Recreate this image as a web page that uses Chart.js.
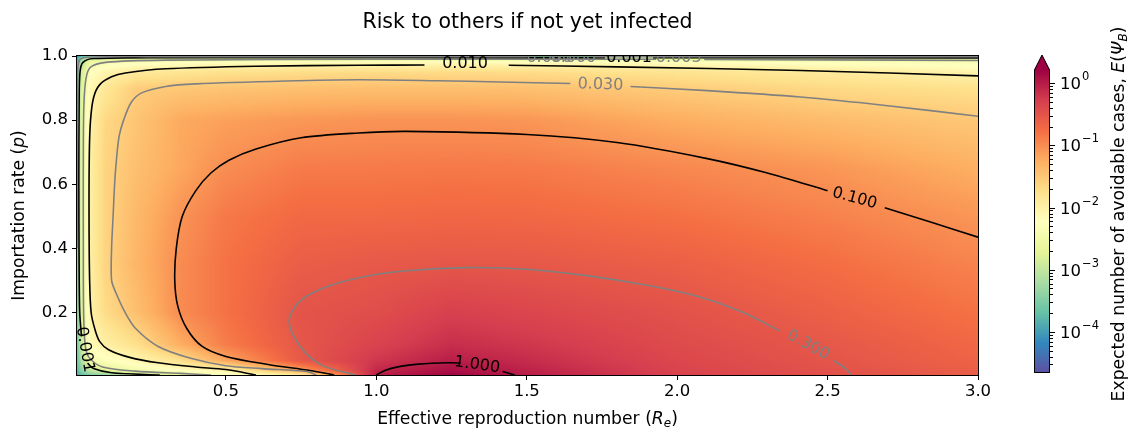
<!DOCTYPE html>
<html>
<head>
<meta charset="utf-8">
<title>Risk to others if not yet infected</title>
<script src="https://cdn.jsdelivr.net/npm/chart.js@4.4.0/dist/chart.umd.min.js"></script>
<style>
  html, body { margin: 0; padding: 0; background: #fff; }
  #wrap { position: relative; width: 1132px; height: 435px; }
  #main { position: absolute; left: 0; top: 0; }
  #cbar { position: absolute; left: 1000px; top: 0; }
</style>
</head>
<body>
<div id="wrap">
  <canvas id="main" width="1132" height="435"></canvas>
  <canvas id="cbar" width="132" height="435"></canvas>
</div>
<script>
// axis ticks
const xTicks = [0.5, 1.0, 1.5, 2.0, 2.5, 3.0];
const yTicks = [0.2, 0.4, 0.6, 0.8, 1.0];
const cbMajor = [-4, -3, -2, -1, 0];          // colorbar exponents (10^n)

// grid of log10 E(Psi_B)
const rNodes = [0, 0.02, 0.05, 0.1, 0.2, 0.35, 0.5, 0.75, 1.0, 1.25, 1.5, 2.0, 2.5, 3.0];
const pNodes = [0.005, 0.02, 0.05, 0.1, 0.2, 0.35, 0.5, 0.65, 0.8, 0.9, 0.95, 0.98, 0.995, 1.0];
const logE = [
  [-4.0, -3.7, -3.5, -3.35, -3.1, -2.75, -2.35, -1.9, -0.03, 0.18, -0.02, -0.33, -0.46, -0.6],   // p=0.005
  [-3.9, -3.4, -3.0, -2.7, -2.45, -2.2, -2.0, -1.1, -0.1, 0.1, -0.06, -0.34, -0.48, -0.62],      // p=0.02
  [-3.85, -3.15, -2.45, -2.3, -2.1, -1.75, -1.2, -0.55, -0.22, -0.02, -0.13, -0.37, -0.51, -0.66], // p=0.05
  [-3.8, -2.95, -2.15, -1.98, -1.75, -1.25, -0.88, -0.53, -0.33, -0.15, -0.22, -0.41, -0.54, -0.7], // p=0.1
  [-3.8, -2.75, -2.0, -1.7, -1.42, -0.99, -0.8, -0.5, -0.44, -0.3, -0.36, -0.48, -0.63, -0.8],     // p=0.2
  [-3.8, -2.65, -1.96, -1.62, -1.33, -0.99, -0.8, -0.6, -0.55, -0.53, -0.54, -0.62, -0.76, -0.93], // p=0.35
  [-3.8, -2.65, -1.96, -1.62, -1.36, -1.05, -0.85, -0.72, -0.72, -0.7, -0.71, -0.79, -0.91, -1.07], // p=0.5
  [-3.8, -2.68, -1.96, -1.62, -1.42, -1.2, -1.0, -0.87, -0.86, -0.85, -0.86, -0.96, -1.07, -1.27],  // p=0.65
  [-3.8, -2.72, -1.99, -1.66, -1.48, -1.22, -1.15, -1.08, -1.05, -1.05, -1.07, -1.25, -1.38, -1.5], // p=0.8
  [-3.8, -2.8, -2.1, -1.85, -1.55, -1.5, -1.47, -1.43, -1.42, -1.42, -1.43, -1.55, -1.68, -1.76],   // p=0.9
  [-3.9, -2.9, -2.25, -2.05, -1.9, -1.82, -1.76, -1.72, -1.7, -1.7, -1.71, -1.8, -1.9, -2.06],      // p=0.95
  [-4.0, -3.1, -2.55, -2.4, -2.3, -2.25, -2.2, -2.17, -2.15, -2.15, -2.16, -2.2, -2.28, -2.35],     // p=0.98
  [-4.1, -3.5, -3.1, -3.0, -3.0, -2.98, -2.97, -2.96, -2.95, -2.95, -2.95, -2.96, -2.98, -3.0],     // p=0.995
  [-4.3, -3.9, -3.8, -3.8, -3.8, -3.8, -3.8, -3.8, -3.8, -3.8, -3.8, -3.8, -3.8, -3.8]              // p=1.0
];

// contour lines as [R_e, p] points, split where the inline label sits
const cont1000 = [
  [[1.0, 0.005], [1.03, 0.02], [1.08, 0.032], [1.14, 0.039], [1.24, 0.043], [1.28, 0.042]],
  [[1.42, 0.016], [1.46, 0.005]]
];
const cont0300 = [
  [[0.93, 0.005], [0.82, 0.035], [0.75, 0.09], [0.71, 0.17], [0.74, 0.23], [0.82, 0.275], [0.95, 0.31],
   [1.1, 0.33], [1.3, 0.34], [1.5, 0.335], [1.7, 0.315], [1.9, 0.285], [2.07, 0.25], [2.22, 0.2], [2.34, 0.143]],
  [[2.52, 0.05], [2.56, 0.025], [2.58, 0.005]]
];
const cont0100 = [
  [[0.86, 0.005], [0.78, 0.019], [0.64, 0.038], [0.5, 0.063], [0.42, 0.095], [0.37, 0.15], [0.34, 0.22],
   [0.33, 0.3], [0.335, 0.4], [0.355, 0.5], [0.4, 0.58], [0.45, 0.635], [0.51, 0.675], [0.6, 0.71],
   [0.75, 0.745], [0.94, 0.76], [1.1, 0.765], [1.5, 0.755], [1.8, 0.73], [2.1, 0.68], [2.3, 0.635], [2.5, 0.58]],
  [[2.69, 0.527], [2.85, 0.48], [3.0, 0.435]]
];
const cont0030 = [
  [[0.8, 0.005], [0.77, 0.016], [0.62, 0.025], [0.5, 0.034], [0.38, 0.058], [0.275, 0.094], [0.2, 0.15],
   [0.165, 0.2], [0.135, 0.26], [0.12, 0.3], [0.12, 0.4], [0.125, 0.5], [0.13, 0.6], [0.136, 0.675],
   [0.145, 0.75], [0.16, 0.8], [0.185, 0.855], [0.22, 0.885], [0.3, 0.905], [0.4, 0.913], [0.7, 0.922],
   [0.94, 0.926], [1.2, 0.923], [1.41, 0.919], [1.645, 0.914]],
  [[1.845, 0.905], [2.1, 0.892], [2.41, 0.872], [2.7, 0.845], [3.0, 0.812]]
];
const cont0010 = [
  [[0.6, 0.005], [0.5, 0.022], [0.4, 0.03], [0.275, 0.043], [0.18, 0.06], [0.11, 0.084], [0.08, 0.11],
   [0.065, 0.146], [0.052, 0.2], [0.047, 0.3], [0.045, 0.5], [0.046, 0.7], [0.05, 0.8], [0.06, 0.87],
   [0.08, 0.91], [0.12, 0.935], [0.166, 0.947], [0.3, 0.96], [0.6, 0.968], [0.94, 0.971], [1.16, 0.972]],
  [[1.44, 0.971], [1.8, 0.966], [2.41, 0.955], [3.0, 0.938]]
];
const cont0003 = [
  [[0.45, 0.005], [0.35, 0.01], [0.2, 0.017], [0.09, 0.03], [0.045, 0.06], [0.032, 0.1], [0.027, 0.2],
   [0.026, 0.4], [0.026, 0.7], [0.028, 0.85], [0.035, 0.93], [0.05, 0.965], [0.1, 0.98], [0.3, 0.987],
   [1.0, 0.99], [1.93, 0.99]],
  [[2.09, 0.989], [2.5, 0.988], [3.0, 0.986]]
];
const cont0001 = [
  [[0.28, 0.005], [0.12, 0.012], [0.06, 0.025], [0.04, 0.042]],
  [[0.02, 0.125], [0.014, 0.2], [0.012, 0.35], [0.011, 0.6], [0.012, 0.85], [0.015, 0.95], [0.025, 0.98],
   [0.06, 0.992], [0.3, 0.995], [1.76, 0.995]],
  [[1.92, 0.995], [3.0, 0.994]]
];
const cont0000 = [
  [[0.006, 0.4], [0.007, 0.9], [0.012, 0.985], [0.04, 0.996], [0.3, 0.998], [1.5, 0.998]],
  [[1.72, 0.998], [3.0, 0.998]]
];

// inline contour labels: text, R_e, p
const labelText = ['1.000', '0.300', '0.100', '0.030', '0.010', '0.003', '0.001', '0.000', '0.000', '0.001'];
const labelR    = [1.335, 2.435, 2.59, 1.745, 1.295, 2.005, 1.84, 1.575, 1.655, 0.031];
const labelP    = [0.036, 0.098, 0.556, 0.91, 0.974, 0.9935, 0.9945, 0.9955, 0.9955, 0.084];
const labelAngle = [8, 29, 15, 2, 0, 0, 0, 0, 0, 80];
const labelDark  = [true, false, true, false, true, false, true, false, false, true];

// colour scale (log10 limits of the colorbar)
const LMIN = -4.66, LMAX = 0.21;
const spectralR = ['#5e4fa2', '#3288bd', '#66c2a5', '#abdda4', '#e6f598', '#ffffbf',
                   '#fee08b', '#fdae61', '#f46d43', '#d53e4f', '#9e0142']
  .map(h => [parseInt(h.slice(1, 3), 16), parseInt(h.slice(3, 5), 16), parseInt(h.slice(5, 7), 16)]);

const FAMILY = 'DejaVu Sans';
const BLACK = '#000000';
const GRAY = '#808080';
const LABEL_SIZE = 17.2;
const SUB_SIZE = 12;

function cmap(t) {
  t = Math.max(0, Math.min(1, t));
  const s = t * 10;
  const k = Math.min(9, Math.floor(s));
  const f = s - k;
  return [0, 1, 2].map(m => Math.round(spectralR[k][m] * (1 - f) + spectralR[k + 1][m] * f));
}

function locate(nodes, v) {
  const n = nodes.length;
  if (v <= nodes[0]) return [0, 0];
  if (v >= nodes[n - 1]) return [n - 2, 1];
  let i = 0;
  while (v > nodes[i + 1]) i++;
  return [i, (v - nodes[i]) / (nodes[i + 1] - nodes[i])];
}

function logAt(r, p) {
  const [i, fx] = locate(rNodes, r);
  const [j, fy] = locate(pNodes, p);
  const a = logE[j][i], b = logE[j][i + 1], c = logE[j + 1][i], d = logE[j + 1][i + 1];
  return (a * (1 - fx) + b * fx) * (1 - fy) + (c * (1 - fx) + d * fx) * fy;
}

// draw a line of text made of runs (italic / subscript pieces), centred on (x, y)
function drawRuns(ctx, runs, x, y) {
  let total = 0;
  runs.forEach(r => {
    ctx.font = (r.it ? 'italic ' : '') + r.size + 'px "' + FAMILY + '"';
    r.w = ctx.measureText(r.t).width;
    total += r.w;
  });
  let cx = x - total / 2;
  ctx.textAlign = 'left';
  ctx.textBaseline = 'middle';
  runs.forEach(r => {
    ctx.font = (r.it ? 'italic ' : '') + r.size + 'px "' + FAMILY + '"';
    ctx.fillText(r.t, cx, y + (r.dy || 0));
    cx += r.w;
  });
}

const heatPlugin = {
  id: 'heat',
  beforeDatasetsDraw(chart) {
    const {ctx, chartArea: a, scales: {x, y}} = chart;
    const L = Math.round(a.left), T = Math.round(a.top);
    const W = Math.round(a.right) - L, H = Math.round(a.bottom) - T;
    const off = document.createElement('canvas');
    off.width = W; off.height = H;
    const octx = off.getContext('2d');
    const img = octx.createImageData(W, H);
    const rs = [];
    for (let i = 0; i < W; i++) rs.push(x.getValueForPixel(L + i + 0.5));
    for (let j = 0; j < H; j++) {
      const p = y.getValueForPixel(T + j + 0.5);
      for (let i = 0; i < W; i++) {
        const c = cmap((logAt(rs[i], p) - LMIN) / (LMAX - LMIN));
        const k = (j * W + i) * 4;
        img.data[k] = c[0]; img.data[k + 1] = c[1]; img.data[k + 2] = c[2]; img.data[k + 3] = 255;
      }
    }
    octx.putImageData(img, 0, 0);
    ctx.drawImage(off, L, T);
  }
};

const labelPlugin = {
  id: 'clabels',
  afterDatasetsDraw(chart) {
    const {ctx, chartArea: a, scales: {x, y}} = chart;
    ctx.save();
    ctx.beginPath();
    ctx.rect(a.left, a.top, a.right - a.left, a.bottom - a.top);
    ctx.clip();
    ctx.font = '16px "' + FAMILY + '"';
    ctx.textAlign = 'center';
    ctx.textBaseline = 'middle';
    labelText.forEach((t, k) => {
      ctx.save();
      ctx.translate(x.getPixelForValue(labelR[k]), y.getPixelForValue(labelP[k]));
      ctx.rotate(labelAngle[k] * Math.PI / 180);
      ctx.fillStyle = labelDark[k] ? BLACK : GRAY;
      ctx.fillText(t, 0, 0);
      ctx.restore();
    });
    ctx.restore();
  }
};

const framePlugin = {
  id: 'frame',
  afterDraw(chart) {
    const {ctx, chartArea: a} = chart;
    ctx.save();
    ctx.strokeStyle = BLACK;
    ctx.lineWidth = 1;
    ctx.strokeRect(Math.round(a.left) - 0.5, Math.round(a.top) - 0.5,
                   Math.round(a.right) - Math.round(a.left) + 1, Math.round(a.bottom) - Math.round(a.top) + 1);
    ctx.fillStyle = BLACK;
    // title, centred over the axes
    ctx.font = '20.5px "' + FAMILY + '"';
    ctx.textAlign = 'center';
    ctx.textBaseline = 'middle';
    ctx.fillText('Risk to others if not yet infected', (a.left + a.right) / 2, 23);
    drawRuns(ctx, [
      {t: 'Effective reproduction number (', size: LABEL_SIZE},
      {t: 'R', size: LABEL_SIZE, it: true},
      {t: 'e', size: SUB_SIZE, it: true, dy: 4},
      {t: ')', size: LABEL_SIZE}
    ], (a.left + a.right) / 2, 420);
    ctx.translate(20, (a.top + a.bottom) / 2);
    ctx.rotate(-Math.PI / 2);
    drawRuns(ctx, [
      {t: 'Importation rate (', size: LABEL_SIZE},
      {t: 'p', size: LABEL_SIZE, it: true},
      {t: ')', size: LABEL_SIZE}
    ], 0, 0);
    ctx.restore();
  }
};

const contours = [
  {segs: cont0000, color: GRAY},
  {segs: cont0001, color: BLACK},
  {segs: cont0003, color: GRAY},
  {segs: cont0010, color: BLACK},
  {segs: cont0030, color: GRAY},
  {segs: cont0100, color: BLACK},
  {segs: cont0300, color: GRAY},
  {segs: cont1000, color: BLACK}
];
const datasets = contours.flatMap(c => c.segs.map(seg => ({
  data: seg.map(([r, p]) => ({x: r, y: p})),
  showLine: true,
  borderColor: c.color,
  borderWidth: 1.6,
  pointRadius: 0,
  tension: 0.3,
  fill: false
})));

const tickFont = {family: FAMILY, size: 16.5};

new Chart(document.getElementById('main'), {
  type: 'scatter',
  data: {datasets},
  options: {
    responsive: false,
    animation: false,
    events: [],
    layout: {padding: {left: 0, right: 154, top: 56, bottom: 0}},
    plugins: {
      legend: {display: false},
      tooltip: {enabled: false},
      title: {display: false}
    },
    scales: {
      x: {
        type: 'linear', min: 0.005, max: 3.0,
        afterBuildTicks: s => { s.ticks = xTicks.map(v => ({value: v})); },
        afterFit: s => { s.height = 60; },
        ticks: {callback: v => v.toFixed(1), color: BLACK, font: tickFont, padding: 2, maxRotation: 0},
        grid: {drawOnChartArea: false, tickLength: 5, color: BLACK},
        border: {display: false}
      },
      y: {
        type: 'linear', min: 0.005, max: 1.0,
        afterBuildTicks: s => { s.ticks = yTicks.map(v => ({value: v})); },
        afterFit: s => { s.width = 77; },
        ticks: {callback: v => v.toFixed(1), color: BLACK, font: tickFont, padding: 4},
        grid: {drawOnChartArea: false, tickLength: 5, color: BLACK},
        border: {display: false}
      }
    }
  },
  plugins: [heatPlugin, labelPlugin, framePlugin]
});

// colorbar
const cbarPlugin = {
  id: 'cbar',
  afterDraw(chart) {
    const {ctx, chartArea: a, scales: {y}} = chart;
    const L = Math.round(a.left), R = Math.round(a.right);
    const T = Math.round(a.top), B = Math.round(a.bottom);
    for (let yy = T; yy < B; yy++) {
      const v = y.getValueForPixel(yy + 0.5);
      const c = cmap((Math.log10(v) - LMIN) / (LMAX - LMIN));
      ctx.fillStyle = 'rgb(' + c.join(',') + ')';
      ctx.fillRect(L, yy, R - L, 1);
    }
    const tip = T - 15;
    ctx.fillStyle = 'rgb(' + cmap(1).join(',') + ')';
    ctx.beginPath();
    ctx.moveTo(L, T); ctx.lineTo((L + R) / 2, tip); ctx.lineTo(R, T); ctx.closePath();
    ctx.fill();
    ctx.strokeStyle = BLACK;
    ctx.lineWidth = 1;
    ctx.beginPath();
    ctx.moveTo(L + 0.5, B - 0.5); ctx.lineTo(L + 0.5, T); ctx.lineTo((L + R) / 2, tip);
    ctx.lineTo(R - 0.5, T); ctx.lineTo(R - 0.5, B - 0.5); ctx.closePath();
    ctx.stroke();
    // minor ticks
    for (let n = -5; n <= 0; n++) {
      for (let k = 2; k <= 9; k++) {
        const v = k * Math.pow(10, n);
        if (v < y.min || v > y.max) continue;
        const py = Math.round(y.getPixelForValue(v)) + 0.5;
        ctx.beginPath(); ctx.moveTo(R, py); ctx.lineTo(R + 3, py); ctx.stroke();
      }
    }
    // major ticks and labels
    ctx.fillStyle = BLACK;
    cbMajor.forEach(n => {
      const py = Math.round(y.getPixelForValue(Math.pow(10, n))) + 0.5;
      ctx.beginPath(); ctx.moveTo(R, py); ctx.lineTo(R + 5, py); ctx.stroke();
      ctx.textAlign = 'left';
      ctx.textBaseline = 'middle';
      ctx.font = '16.5px "' + FAMILY + '"';
      ctx.fillText('10', R + 10, py + 1);
      const w = ctx.measureText('10').width;
      ctx.font = '11.5px "' + FAMILY + '"';
      ctx.fillText(n === 0 ? '0' : '\u2212' + (-n), R + 10 + w + 1, py - 6);
    });
    // label
    ctx.save();
    ctx.translate(120, (tip + B) / 2);
    ctx.rotate(-Math.PI / 2);
    drawRuns(ctx, [
      {t: 'Expected number of avoidable cases, ', size: LABEL_SIZE},
      {t: 'E', size: LABEL_SIZE, it: true},
      {t: '(', size: LABEL_SIZE},
      {t: '\u03A8', size: LABEL_SIZE, it: true},
      {t: 'B', size: SUB_SIZE, it: true, dy: 4},
      {t: ')', size: LABEL_SIZE}
    ], 0, 0);
    ctx.restore();
  }
};

new Chart(document.getElementById('cbar'), {
  type: 'scatter',
  data: {datasets: []},
  options: {
    responsive: false,
    animation: false,
    events: [],
    layout: {padding: {left: 34, right: 82, top: 70, bottom: 62}},
    plugins: {legend: {display: false}, tooltip: {enabled: false}},
    scales: {
      x: {display: false, min: 0, max: 1},
      y: {type: 'logarithmic', display: false, min: Math.pow(10, LMIN), max: Math.pow(10, LMAX)}
    }
  },
  plugins: [cbarPlugin]
});
</script>
</body>
</html>
